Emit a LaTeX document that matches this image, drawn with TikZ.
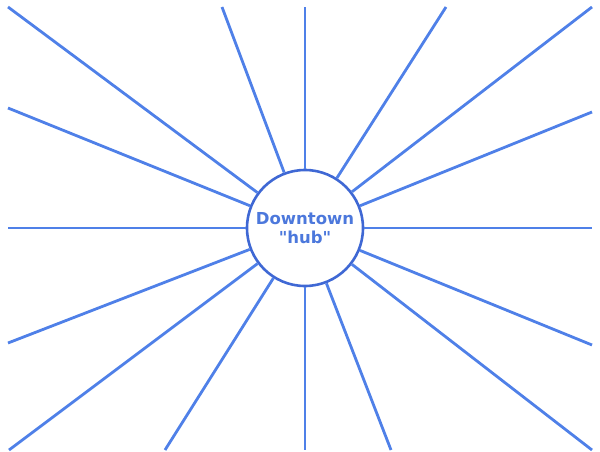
\documentclass[tikz,border=0pt]{standalone}
\usepackage{fontspec}
\newfontfamily\hubfont{DejaVu Sans}
\definecolor{SpokeBlue}{HTML}{4F80E8}
\definecolor{RimBlue}{HTML}{3F68D4}
\definecolor{HubText}{HTML}{4C78DC}

\begin{document}
\begin{tikzpicture}[x=1pt,y=-1pt,
    spoke/.style={SpokeBlue,line width=2.8pt},
    hubnode/.style={circle,draw=RimBlue,line width=2.6pt,fill=white,minimum size=116pt,inner sep=0pt,
      font=\hubfont\fontsize{16.5}{19}\selectfont\bfseries,text=HubText,align=center}]
  \useasboundingbox (0,0) rectangle (600,452);
  \node[hubnode] (hub) at (305,228) {Downtown\\"hub"};
  % spoke ends at the picture edge
  \foreach \n/\ex/\ey in {1/8/7,2/8/108,3/8/228,4/8/343,5/9/450,6/165/450,
      7/305/450,8/391/450,9/592/450,10/592/345,11/592/228,12/592/112,
      13/592/7,14/446/7,15/305/7,16/222/7}
    \coordinate (e\n) at (\ex,\ey);
  \foreach \n in {1,...,16}
    \draw[spoke] (hub) -- (e\n);
\end{tikzpicture}
\end{document}
